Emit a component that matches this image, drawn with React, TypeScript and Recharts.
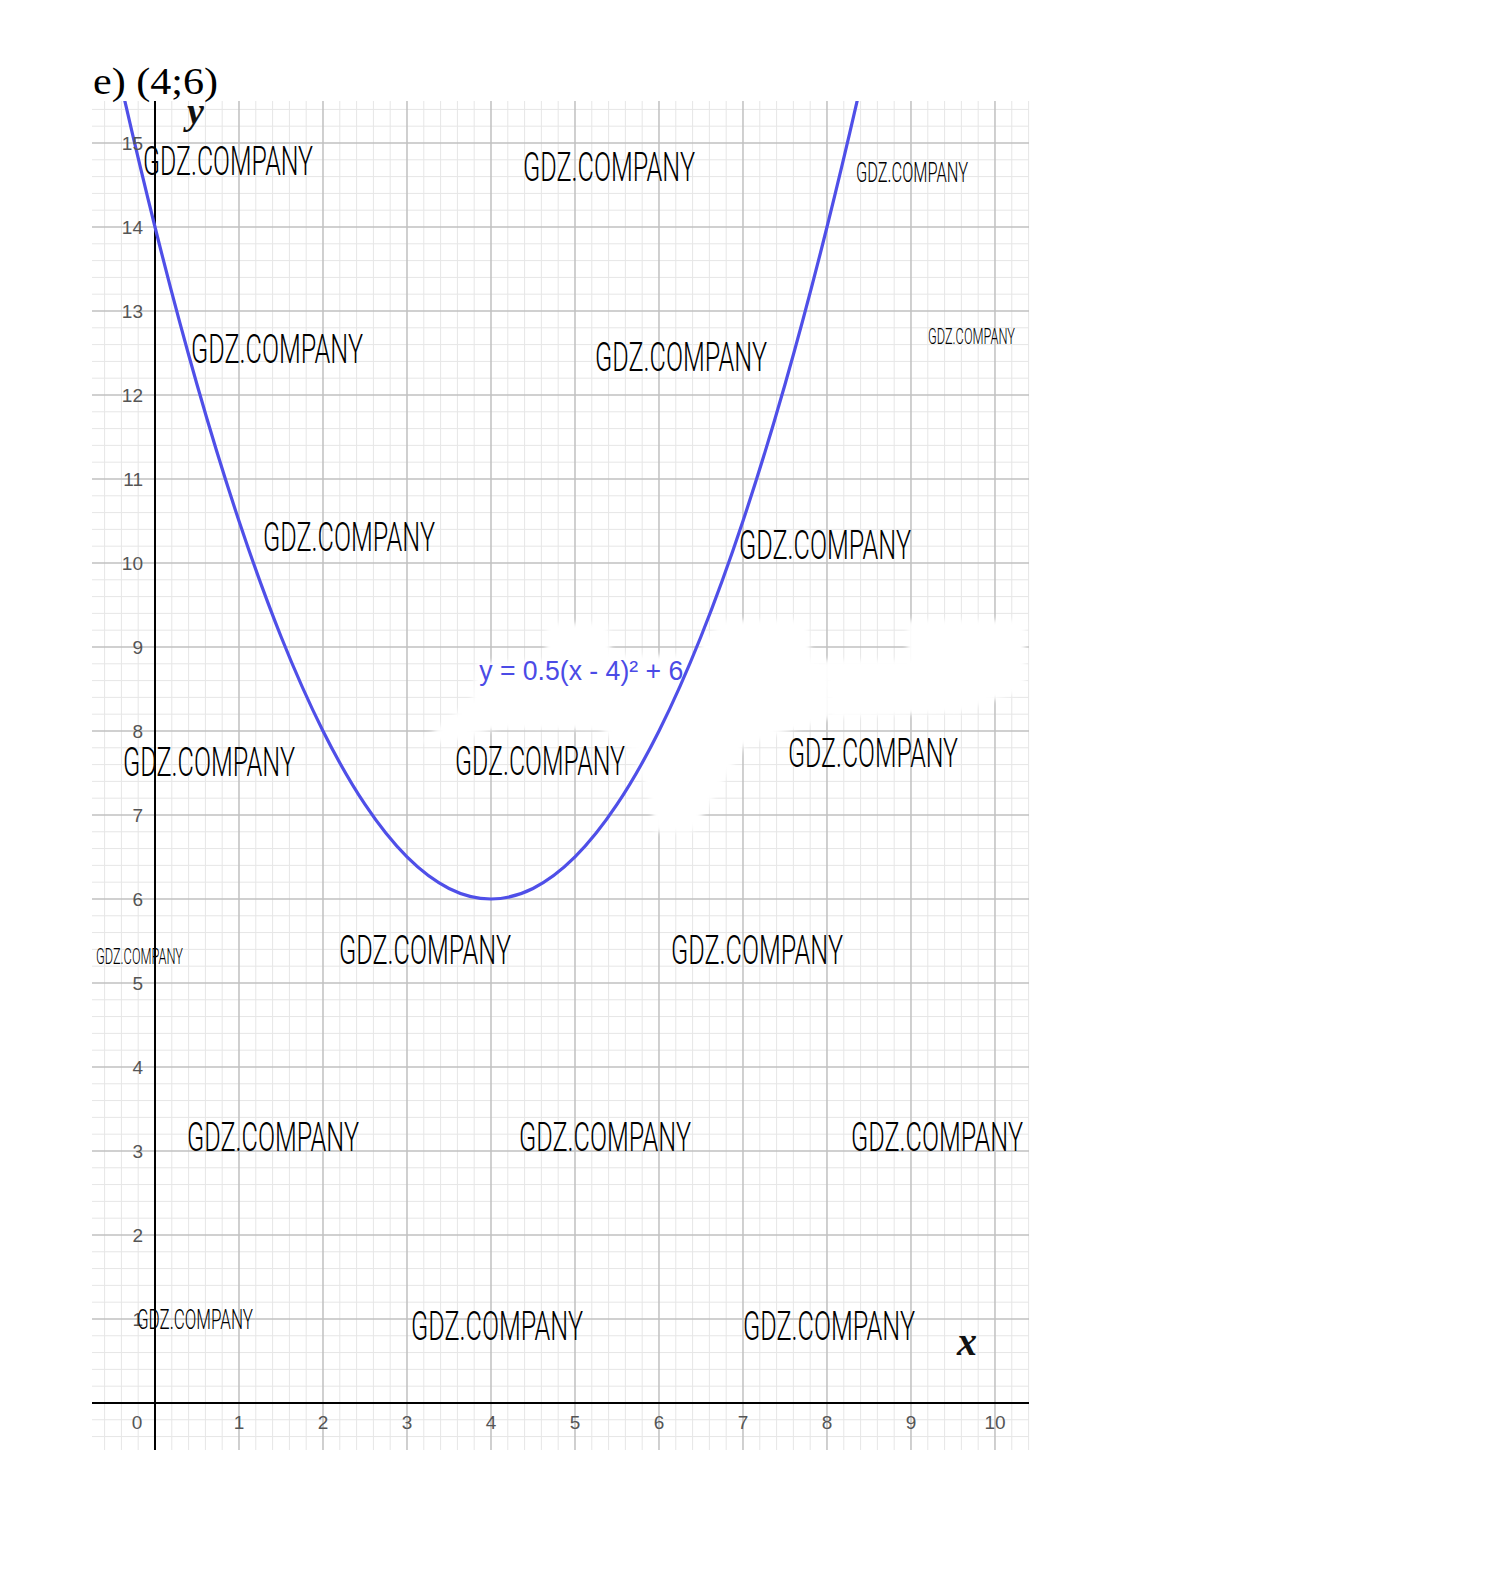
import React from 'react';
import { LineChart, Line, XAxis, YAxis, ReferenceLine, ReferenceDot } from 'recharts';

// points of y = 0.5(x - 4)^2 + 6
const CURVE_X = [-1, -0.5, 0, 0.5, 1, 1.5, 2, 2.5, 3, 3.5, 4, 4.5, 5, 5.5, 6, 6.5, 7, 7.5, 8, 8.5, 9];
const CURVE_Y = [18.5, 16.125, 14, 12.125, 10.5, 9.125, 8, 7.125, 6.5, 6.125, 6, 6.125, 6.5, 7.125, 8, 9.125, 10.5, 12.125, 14, 16.125, 18.5];

const X_TICKS = [0, 1, 2, 3, 4, 5, 6, 7, 8, 9, 10];
const Y_TICKS = [1, 2, 3, 4, 5, 6, 7, 8, 9, 10, 11, 12, 13, 14, 15];
const MAJOR_X = [0, 1, 2, 3, 4, 5, 6, 7, 8, 9, 10];
const MAJOR_Y = [0, 1, 2, 3, 4, 5, 6, 7, 8, 9, 10, 11, 12, 13, 14, 15];

const TITLE = 'e) (4;6)';
const FORMULA = 'y = 0.5(x - 4)² + 6';
const FORMULA_AT = { x: 3.86, y: 8.61 };
const WATERMARK = 'GDZ.COMPANY';

const X_DOMAIN: [number, number] = [-0.75, 10.405];
const Y_DOMAIN: [number, number] = [-0.56, 15.5];

const W = 1100;
const H = 1500;
const MARGIN = { top: 101, left: 92, right: 71, bottom: 50 };

const data = CURVE_X.map((x, i) => ({ x, y: CURVE_Y[i] }));

// minor grid every 0.2
const minorX: number[] = [];
for (let i = -3; i <= 52; i++) if (i % 5 !== 0) minorX.push(i / 5);
const minorY: number[] = [];
for (let i = -2; i <= 77; i++) if (i % 5 !== 0) minorY.push(i / 5);

// watermark overlay: left, baseline, width, font size
const MARKS: [number, number, number, number][] = [
  [143, 175, 170, 41],
  [523, 181, 172, 41],
  [856, 182, 112, 28],
  [191, 363, 172, 41],
  [595, 371, 172, 41],
  [928, 344, 87, 22],
  [263, 551, 172, 41],
  [739, 559, 172, 41],
  [123, 776, 172, 41],
  [455, 775, 170, 41],
  [788, 767, 170, 41],
  [96, 964, 87, 22],
  [339, 964, 172, 41],
  [671, 964, 172, 41],
  [187, 1151, 172, 41],
  [519, 1151, 172, 41],
  [851, 1151, 172, 41],
  [137, 1329, 116, 28],
  [411, 1340, 172, 41],
  [743, 1340, 172, 41],
];

// white smudges that erase the grid round the label
const SMUDGES = [
  '420,742 445,722 472,700 477,662 545,660 547,623 607,623 612,655 700,655 700,740 630,750 600,730 500,728 450,742',
  '700,645 725,620 807,620 812,660 830,662 830,718 745,745 712,800 692,832 655,832 648,790 630,750 670,720 690,690',
  '825,660 957,660 960,712 830,718',
  '907,620 1025,620 1025,690 957,712 907,690',
];

const layer: React.CSSProperties = { position: 'absolute', left: 0, top: 0 };
const tickFont = 'Liberation Sans, Arial, sans-serif';

const App = () => {
  return (
    <div style={{ position: 'absolute', left: 0, top: 0, width: 1489, height: 1586, background: '#fff', overflow: 'hidden' }}>
      {/* grid */}
      <div style={layer}>
        <LineChart width={W} height={H} data={data} margin={MARGIN}>
          <XAxis type="number" dataKey="x" domain={X_DOMAIN} allowDataOverflow hide />
          <YAxis type="number" domain={Y_DOMAIN} allowDataOverflow hide />
          {minorX.map((v) => (
            <ReferenceLine key={'mx' + v} x={v} stroke="#e6e6e6" strokeWidth={1} />
          ))}
          {minorY.map((v) => (
            <ReferenceLine key={'my' + v} y={v} stroke="#e6e6e6" strokeWidth={1} />
          ))}
          {MAJOR_X.map((v) => (
            <ReferenceLine key={'Mx' + v} x={v} stroke="#c0c0c0" strokeWidth={1.5} />
          ))}
          {MAJOR_Y.map((v) => (
            <ReferenceLine key={'My' + v} y={v} stroke="#c0c0c0" strokeWidth={1.5} />
          ))}
        </LineChart>
      </div>

      <svg style={layer} width={1489} height={1586}>
        <defs>
          <filter id="soft" x="-10%" y="-10%" width="120%" height="120%">
            <feGaussianBlur stdDeviation="2.5" />
          </filter>
        </defs>
        {SMUDGES.map((p, i) => (
          <polygon key={i} points={p} fill="#fff" filter="url(#soft)" />
        ))}
      </svg>

      {/* axes, ticks, curve, label */}
      <div style={layer}>
        <LineChart width={W} height={H} data={data} margin={MARGIN}>
          <XAxis type="number" dataKey="x" domain={X_DOMAIN} allowDataOverflow hide />
          <YAxis type="number" domain={Y_DOMAIN} allowDataOverflow hide />
          <ReferenceLine y={0} stroke="#000" strokeWidth={2} />
          <ReferenceLine x={0} stroke="#000" strokeWidth={2} />
          {X_TICKS.map((v) => (
            <ReferenceDot
              key={'xt' + v}
              x={v}
              y={0}
              r={0}
              shape={(p: any) => (
                <text x={v === 0 ? p.cx - 18 : p.cx} y={p.cy + 26} textAnchor="middle" fontFamily={tickFont} fontSize={19} fill="#555">
                  {v}
                </text>
              )}
            />
          ))}
          {Y_TICKS.map((v) => (
            <ReferenceDot
              key={'yt' + v}
              x={0}
              y={v}
              r={0}
              shape={(p: any) => (
                <text x={p.cx - 12} y={p.cy + 7} textAnchor="end" fontFamily={tickFont} fontSize={19} fill="#555">
                  {v}
                </text>
              )}
            />
          ))}
          <Line
            type="monotone"
            dataKey="y"
            stroke="#4f4fe8"
            strokeWidth={3.2}
            dot={false}
            activeDot={false}
            isAnimationActive={false}
          />
          <ReferenceDot
            x={FORMULA_AT.x}
            y={FORMULA_AT.y}
            r={0}
            shape={(p: any) => (
              <text x={p.cx} y={p.cy} fontFamily={tickFont} fontSize={27} fill="#4b4be6" textLength={204} lengthAdjust="spacingAndGlyphs">
                {FORMULA}
              </text>
            )}
          />
        </LineChart>
      </div>

      <svg style={layer} width={1489} height={1586}>
        <text x={93} y={94} fontFamily="Liberation Serif, Times New Roman, serif" fontSize={38} fill="#000" textLength={125} lengthAdjust="spacingAndGlyphs">
          {TITLE}
        </text>
        <text x={187} y={124} fontFamily="Liberation Serif, serif" fontStyle="italic" fontWeight={700} fontSize={38} fill="#111">
          y
        </text>
        <text x={957} y={1355} fontFamily="Liberation Serif, serif" fontStyle="italic" fontWeight={700} fontSize={40} fill="#111">
          x
        </text>
        {MARKS.map(([x, y, w, s], i) => (
          <text key={i} x={x} y={y} fontFamily="Roboto, sans-serif" fontWeight={300} fontSize={s} fill="#000" textLength={w} lengthAdjust="spacingAndGlyphs">
            {WATERMARK}
          </text>
        ))}
      </svg>
    </div>
  );
};

export default App;
